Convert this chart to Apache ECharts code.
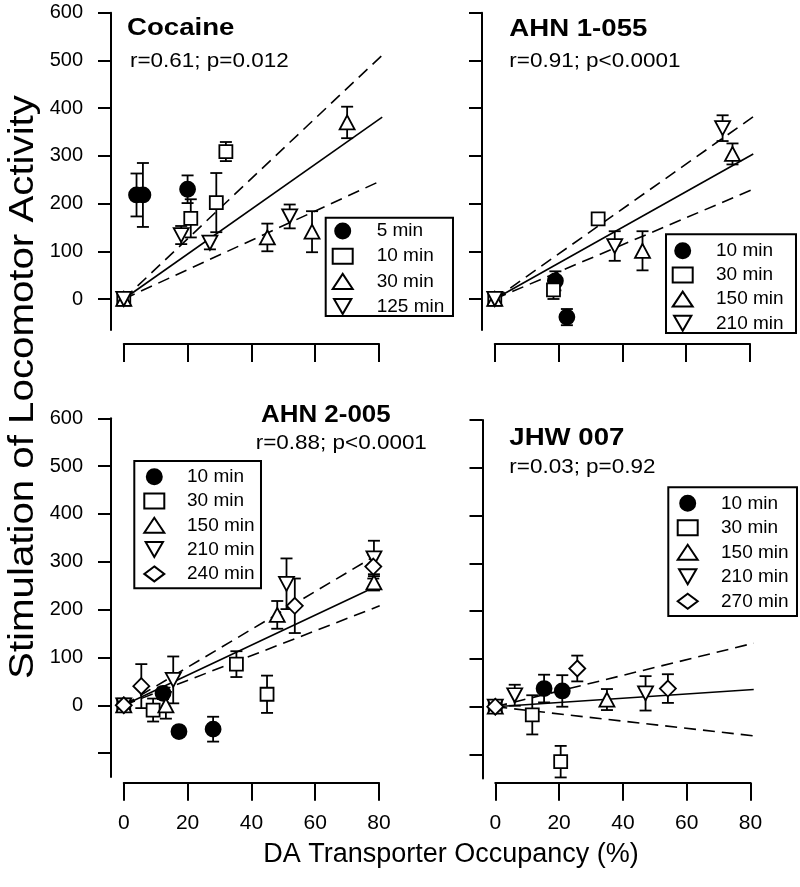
<!DOCTYPE html>
<html>
<head>
<meta charset="utf-8">
<script src="https://cdn.jsdelivr.net/npm/echarts@6/dist/echarts.min.js"></script>
<style>
html,body{margin:0;padding:0;background:#fff;}
#chart{width:800px;height:887px;}
</style>
</head>
<body>
<div id="chart"></div>
<script>
// ---------------- DATA ----------------
// rows: [occupancy %, locomotor stimulation, error]
const xTicks = [0, 20, 40, 60, 80];
const yTickLabels = [0, 100, 200, 300, 400, 500, 600];
const yTicksTop = [0, 100, 200, 300, 400, 500, 600];
const yTicksBottom = [-100, 0, 100, 200, 300, 400, 500, 600];

const panelTitles = ['Cocaine', 'AHN 1-055', 'AHN 2-005', 'JHW 007'];
const panelStats = ['r=0.61; p=0.012', 'r=0.91; p<0.0001', 'r=0.88; p<0.0001', 'r=0.03; p=0.92'];

// Cocaine
const coc5min   = [[4, 218, 45], [6, 218, 67], [20, 230, 29]];
const coc10min  = [[0, 0, 0], [21, 169, 40], [29, 202, 62], [32, 309, 20]];
const coc30min  = [[0, 0, 0], [45, 129, 29], [59, 141, 43], [70, 370, 33]];
const coc125min = [[0, 0, 0], [18, 134, 19], [27, 118, 14], [52, 173, 25]];
const cocFit   = [[0, 0], [81, 381]];
const cocUpper = [[0, 0], [81, 511]];
const cocLower = [[0, 0], [81, 249]];

// AHN 1-055
const a1_10min  = [[19, 38, 20], [22.6, -38, 17]];
const a1_30min  = [[0, 0, 0], [18.4, 19, 19], [32.4, 168, 8]];
const a1_150min = [[0, 0, 0], [46.3, 101, 41], [74.5, 304, 22]];
const a1_210min = [[0, 0, 0], [37.6, 111, 31], [71.4, 358, 27]];
const a1Fit   = [[0, 0], [81, 304]];
const a1Upper = [[0, 0], [81, 382]];
const a1Lower = [[0, 0], [81, 230]];

// AHN 2-005
const a2_10min  = [[12.3, 25, 12], [17.3, -55, 10], [28, -50, 26]];
const a2_30min  = [[0, 0, 0], [9.2, -10, 24], [35.3, 86, 27], [44.9, 23, 39]];
const a2_150min = [[0, 0, 0], [13.2, 0, 28], [48.1, 189, 29], [78.4, 257, 17]];
const a2_210min = [[0, 0, 0], [15.5, 53, 49], [51, 254, 53], [78.4, 307, 37]];
const a2_240min = [[0, 0, 0], [5.5, 40, 46], [53.6, 208, 57], [78.2, 290, 25]];
const a2Fit   = [[0, 0], [80.2, 252]];
const a2Upper = [[0, 0], [80.2, 318]];
const a2Lower = [[0, 0], [80.2, 208]];

// JHW 007
const j_10min  = [[15.3, 38, 29], [21, 33, 33]];
const j_30min  = [[0, 0, 0], [11.6, -17, 41], [20.5, -115, 33]];
const j_150min = [[0, 0, 0], [35, 15, 22]];
const j_210min = [[0, 0, 0], [6.1, 24, 22], [47.1, 28, 36]];
const j_270min = [[0, 0, 0], [25.7, 80, 27], [54.1, 38, 30]];
const jFit   = [[0, 0], [81, 36]];
const jUpper = [[0, 0], [81, 133]];
const jLower = [[0, 0], [81, -61]];

// ---------------- STYLE / LAYOUT ----------------
const FONT = '"Liberation Sans", Arial, Helvetica, sans-serif';
const DOWN = 'path://M0,0L10,0L5,8.66Z';
const SYM = {
  filled:  {symbol: 'circle', size: 15, fill: '#000'},
  square:  {symbol: 'rect', size: 13, fill: '#fff'},
  up:      {symbol: 'triangle', size: [15, 14], fill: '#fff'},
  down:    {symbol: DOWN, size: [15, 14], fill: '#fff'},
  diamond: {symbol: 'diamond', size: 16, fill: '#fff'}
};

const panels = [
  {left: 111, top: 12.7, height: 317.3, ymin: -65, ticks: yTicksTop, yLabels: true,
   xAxisTop: 343, labels: false,
   series: [['5 min', coc5min, 'filled'], ['10 min', coc10min, 'square'], ['30 min', coc30min, 'up'], ['125 min', coc125min, 'down']],
   fits: [cocFit, cocUpper, cocLower],
   legend: {left: 325.7, top: 217.7, pad: [3.8, 8.7, 0, 6], gap: 6.2, tp: 19},
   title: {x: 127, y: 28.7, sx: 1.15}, stat: {x: 130, y: 60.8}},
  {left: 482, top: 12.7, height: 317.3, ymin: -65, ticks: yTicksTop, yLabels: false,
   xAxisTop: 343, labels: false,
   series: [['10 min ', a1_10min, 'filled'], ['30 min ', a1_30min, 'square'], ['150 min', a1_150min, 'up'], ['210 min', a1_210min, 'down']],
   fits: [a1Fit, a1Upper, a1Lower],
   legend: {left: 666, top: 234.3, pad: [6.9, 12.4, 0.2, 5.7], gap: 5.2, tp: 18.3},
   title: {x: 509.3, y: 29, sx: 1.15}, stat: {x: 509.3, y: 61.3}},
  {left: 111, top: 418.3, height: 358.7, ymin: -150, ticks: yTicksBottom, yLabels: true,
   xAxisTop: 781.7, labels: true,
   series: [['10 min  ', a2_10min, 'filled'], ['30 min  ', a2_30min, 'square'], ['150 min ', a2_150min, 'up'], ['210 min ', a2_210min, 'down'], ['240 min', a2_240min, 'diamond']],
   fits: [a2Fit, a2Upper, a2Lower],
   legend: {left: 134.3, top: 461, pad: [6.2, 6.4, 4.9, 9], gap: 5.3, tp: 17.7},
   title: {x: 261, y: 415.8, sx: 1.08}, stat: {x: 255.7, y: 443.3}},
  {left: 482.5, top: 420, height: 358.4, ymin: -150, ticks: yTicksBottom, yLabels: false,
   xAxisTop: 781.7, labels: true,
   series: [['10 min   ', j_10min, 'filled'], ['30 min   ', j_30min, 'square'], ['150 min  ', j_150min, 'up'], ['210 min  ', j_210min, 'down'], ['270 min', j_270min, 'diamond']],
   fits: [jFit, jUpper, jLower],
   legend: {left: 668.3, top: 487.3, pad: [6.5, 8.4, 5.2, 8.4], gap: 5.5, tp: 18.3},
   title: {x: 509.3, y: 438.2, sx: 1.15}, stat: {x: 509.3, y: 467.5}}
];

const PX_PER_UNIT = 3.191;
const XMIN = -4, XMAX = 84;

const grid = [], xAxis = [], yAxis = [], series = [], legend = [], graphic = [];

function errorRender(params, api) {
  const x = api.value(0), y = api.value(1), e = api.value(2);
  if (!e) return null;
  const t = api.coord([x, y + e]);
  const b = api.coord([x, y - e]);
  const w = 6;
  const st = {stroke: '#000', lineWidth: 1.8};
  return {
    type: 'group',
    children: [
      {type: 'line', shape: {x1: t[0], y1: t[1], x2: b[0], y2: b[1]}, style: st},
      {type: 'line', shape: {x1: t[0] - w, y1: t[1], x2: t[0] + w, y2: t[1]}, style: st},
      {type: 'line', shape: {x1: b[0] - w, y1: b[1], x2: b[0] + w, y2: b[1]}, style: st}
    ]
  };
}

panels.forEach((p, i) => {
  grid.push({left: p.left, top: p.top, width: (XMAX - XMIN) * PX_PER_UNIT, height: p.height});
  xAxis.push({gridIndex: i, type: 'value', min: XMIN, max: XMAX, show: false});
  yAxis.push({
    gridIndex: i, type: 'value', min: p.ymin, max: 600,
    axisLine: {show: true, onZero: false, lineStyle: {color: '#000', width: 2}},
    axisTick: {show: true, length: 13, customValues: p.ticks, lineStyle: {color: '#000', width: 2}},
    axisLabel: {show: p.yLabels, customValues: yTickLabels, margin: 28, fontSize: 20, color: '#000', fontFamily: FONT},
    splitLine: {show: false}
  });
});

panels.forEach((p, i) => {
  const gi = 4 + i;
  const zeroPx = p.left - XMIN * PX_PER_UNIT;
  grid.push({left: zeroPx, top: p.xAxisTop, width: 80 * PX_PER_UNIT, height: 1});
  xAxis.push({
    gridIndex: gi, type: 'value', min: xTicks[0], max: xTicks[xTicks.length - 1], interval: 20,
    position: 'bottom',
    axisLine: {show: true, onZero: false, lineStyle: {color: '#000', width: 2}},
    axisTick: {show: true, length: 18, lineStyle: {color: '#000', width: 2}},
    axisLabel: {show: p.labels, margin: 30, fontSize: 21, color: '#000', fontFamily: FONT},
    splitLine: {show: false}
  });
  yAxis.push({gridIndex: gi, type: 'value', min: 0, max: 1, show: false});
});

panels.forEach((p, i) => {
  p.series.forEach(s => {
    series.push({
      type: 'custom', xAxisIndex: i, yAxisIndex: i, silent: true, z: 2,
      data: s[1], encode: {x: 0, y: 1}, renderItem: errorRender, clip: false
    });
  });
  p.fits.forEach((f, k) => {
    series.push({
      type: 'line', xAxisIndex: i, yAxisIndex: i, data: f, symbol: 'none', silent: true, z: 3,
      lineStyle: {color: '#000', width: 1.6, type: k === 0 ? 'solid' : [12, 7]}
    });
  });
  p.series.forEach(s => {
    const st = SYM[s[2]];
    series.push({
      name: s[0], type: 'scatter', xAxisIndex: i, yAxisIndex: i, z: 5,
      data: s[1].map(r => [r[0], r[1]]),
      symbol: st.symbol, symbolSize: st.size,
      itemStyle: {color: st.fill, borderColor: '#000', borderWidth: 1.8, opacity: 1},
      emphasis: {disabled: true}
    });
  });
  legend.push({
    data: p.series.map(s => s[0]),
    orient: 'vertical', left: p.legend.left, top: p.legend.top,
    padding: p.legend.pad, itemGap: p.legend.gap, itemWidth: 20, itemHeight: 15,
    borderColor: '#000', borderWidth: 2, selectedMode: false,
    formatter: n => '{t|' + n.trim() + '}',
    textStyle: {rich: {t: {fontSize: 19, lineHeight: 15, color: '#000', fontFamily: FONT, padding: [0, 0, 0, p.legend.tp]}}}
  });
  graphic.push({
    type: 'text', x: p.title.x, y: p.title.y, scaleX: p.title.sx,
    style: {text: panelTitles[i], font: 'bold 24px ' + FONT, fill: '#000', align: 'left', verticalAlign: 'middle', textAlign: 'left', textVerticalAlign: 'middle'}
  });
  graphic.push({
    type: 'text', x: p.stat.x, y: p.stat.y, scaleX: 1.07,
    style: {text: panelStats[i], font: '21px ' + FONT, fill: '#000', align: 'left', verticalAlign: 'middle', textAlign: 'left', textVerticalAlign: 'middle'}
  });
});

graphic.push({
  type: 'text', x: 451, y: 855,
  style: {text: 'DA Transporter Occupancy (%)', font: '27px ' + FONT, fill: '#000', align: 'center', verticalAlign: 'middle', textAlign: 'center', textVerticalAlign: 'middle'}
});
graphic.push({
  type: 'text', x: 23, y: 387, rotation: Math.PI / 2, scaleX: 1.15,
  style: {text: 'Stimulation of Locomotor Activity', font: '35px ' + FONT, fill: '#000', align: 'center', verticalAlign: 'middle', textAlign: 'center', textVerticalAlign: 'middle'}
});

const chart = echarts.init(document.getElementById('chart'), null, {renderer: 'canvas'});
chart.setOption({
  animation: false,
  backgroundColor: '#fff',
  grid, xAxis, yAxis, series, legend, graphic
});
</script>
</body>
</html>
